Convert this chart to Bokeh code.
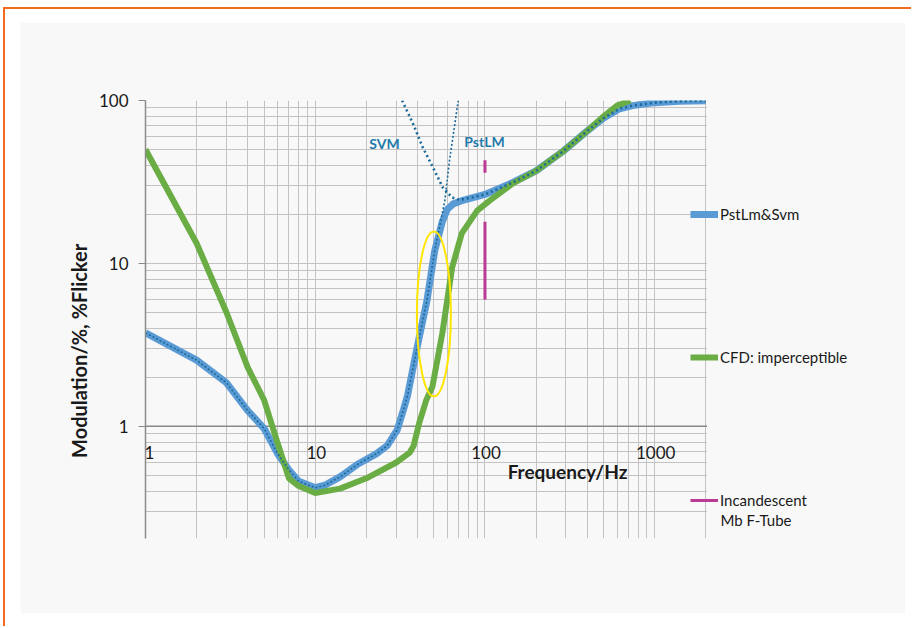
from bokeh.plotting import figure
from bokeh.models import (FixedTicker, PrintfTickFormatter, Label, LabelSet, ColumnDataSource,
                          Legend, LegendItem, Range1d, Span, Title, BoxAnnotation)
from bokeh.embed import file_html
from bokeh.resources import INLINE
from bokeh.core.properties import value

# ---------------- data ----------------
# PstLm&Svm (combined curve)
freq_blue = [1, 2, 3, 4, 5, 6, 7, 8, 10, 11.4, 14, 18, 23, 26.5, 30.4, 33, 35, 39.7, 45.5,
             50.6, 56, 60, 65, 75, 100, 146, 200, 290, 400, 500, 620, 740, 1000, 1400, 2000]
mod_blue = [3.75, 2.55, 1.85, 1.25, 0.97, 0.68, 0.54, 0.46, 0.42, 0.435, 0.49, 0.59, 0.68, 0.76,
            0.95, 1.25, 1.55, 3.0, 5.9, 12, 18, 21.5, 23.2, 24.5, 26.5, 31.4, 37, 49, 65, 78,
            89, 93, 97, 99, 99.5]

# PstLM asymptote (dotted)
freq_pst = [1, 2, 3, 4, 5, 6, 7, 8, 10, 11.4, 14, 18, 23, 26.5, 30.4, 33, 35, 39.7, 45.5,
            50.6, 55, 58, 61.8, 69.6]
mod_pst = [3.75, 2.55, 1.85, 1.25, 0.97, 0.68, 0.54, 0.46, 0.42, 0.435, 0.49, 0.59, 0.68, 0.76,
           0.95, 1.25, 1.55, 3.0, 5.9, 12, 18.3, 24.3, 42.8, 100]

# SVM asymptote (dotted)
freq_svm = [32.5, 37.7, 43, 49.4, 56.5, 64, 71, 100, 146, 200, 290, 400, 500, 620, 740, 1000,
            1400, 2000]
mod_svm = [100, 72, 51.5, 38.8, 29.2, 25.4, 24.5, 26.5, 31.4, 37, 49, 65, 78, 89, 93, 97, 99, 99.5]

# CFD: imperceptible
freq_green = [1, 2, 3, 4, 5, 6, 7, 8, 10, 14, 20, 30, 36, 38, 41, 45, 49, 56, 64, 73, 90, 107,
              146, 200, 290, 400, 500, 600, 720]
mod_green = [50, 13.3, 5.0, 2.3, 1.45, 0.79, 0.48, 0.43, 0.39, 0.415, 0.48, 0.6, 0.69, 0.76,
             1.05, 1.44, 1.75, 3.7, 9.4, 15.3, 21.1, 24.4, 31, 37, 49, 65, 80, 93, 100]

# Incandescent / Mb F-Tube (100 Hz bars)
freq_lamp = [100, 100, float("nan"), 100, 100]
mod_lamp = [43, 36, float("nan"), 18, 6]

# highlighted region (yellow ellipse centre)
ellipse_x = [50]
ellipse_y = [4.9]

x_major = [1, 10, 100, 1000]
x_labels = ["1", "10", "100", "1000"]
x_label_shift = [4, 1, 1, 1]
y_major = [1, 10, 100]
x_min, x_max = 1, 2000
y_min, y_max = 0.205, 100

FONT = "Lato"
INK = "#1a1a1a"
PANEL = "#f8f8f8"
BLUE, GREEN, DOTS, MAGENTA = "#5b9bd5", "#6aad45", "#1b6a99", "#bb3a96"

x_minor = [m * 10 ** e for e in range(0, 4) for m in range(2, 10) if m * 10 ** e <= x_max]
y_minor = [m * 10.0 ** e for e in range(-1, 2) for m in range(2, 10) if m * 10.0 ** e >= 0.2]

# geometry (pixels)
PX_PER_DECADE = 170.0
EXTRA_RIGHT = 200          # legend area right of the last gridline, still inside the frame
x_view_end = x_max * 10 ** (EXTRA_RIGHT / PX_PER_DECADE)

p = figure(width=908, height=619, x_axis_type="log", y_axis_type="log",
           x_range=Range1d(x_min, x_view_end), y_range=Range1d(y_min, y_max),
           output_backend="svg", toolbar_location=None,
           min_border_left=125, min_border_right=23, min_border_top=78, min_border_bottom=103)
p.border_fill_color = PANEL
p.background_fill_color = PANEL
p.outline_line_color = None
p.styles = {"margin-left": "3px", "margin-top": "7px",
            "border-left": "2px solid #f26a1b", "border-top": "2px solid #f26a1b",
            "padding-left": "15px", "padding-top": "13px", "padding-right": "6px",
            "padding-bottom": "13px", "background-color": "white"}

xt = FixedTicker(ticks=x_major, minor_ticks=x_minor)
yt = FixedTicker(ticks=y_major, minor_ticks=y_minor)
p.xaxis.ticker = xt
p.xgrid.ticker = xt
p.yaxis.ticker = yt
p.ygrid.ticker = yt
p.xaxis.visible = False

for g in (p.xgrid, p.ygrid):
    g.grid_line_color = "#c3c3c3"
    g.minor_grid_line_color = "#c3c3c3"
    g.grid_line_width = 1
    g.minor_grid_line_width = 1

ya = p.yaxis[0]
ya.formatter = PrintfTickFormatter(format="%d")
ya.axis_line_color = "#8a8a8a"
ya.axis_line_width = 1.5
ya.major_tick_line_color = "#8a8a8a"
ya.major_tick_out = 7
ya.major_tick_in = 0
ya.minor_tick_out = 0
ya.minor_tick_in = 0
ya.major_label_standoff = 10
ya.major_label_text_font = FONT
ya.major_label_text_font_size = "17px"
ya.major_label_text_color = INK

# y title; trailing no-break spaces push the visible text down along the axis
p.add_layout(Title(text="Modulation/%,  %Flicker" + "\u00a0" * 12, align="center",
                   standoff=9, text_font=FONT, text_font_style="bold",
                   text_font_size="20px", text_color=INK), "left")

# x axis line at y = 1 (under the mask so that it stops at the last gridline)
p.add_layout(Span(location=1, dimension="width", line_color="#8a8a8a", line_width=1.5,
                  level="underlay"))
# mask for the grid beyond the last gridline (legend area)
p.add_layout(BoxAnnotation(left=x_max * 10 ** (1.2 / PX_PER_DECADE), fill_color=PANEL,
                           fill_alpha=1, line_alpha=0, level="underlay"))

# curves
r_blue = p.line(freq_blue, mod_blue, line_color=BLUE, line_width=7)
r_green = p.line(freq_green, mod_green, line_color=GREEN, line_width=6)
p.line(freq_pst, mod_pst, line_color=DOTS, line_width=1.6, line_dash="2 2")
p.line(freq_svm, mod_svm, line_color=DOTS, line_width=2.6, line_dash="2 3")
r_lamp = p.line(freq_lamp, mod_lamp, line_color=MAGENTA, line_width=3)
p.ellipse(x=ellipse_x, y=ellipse_y, width=34, height=165, width_units="screen",
          height_units="screen", fill_color=None, line_color="#ffe500", line_width=2)

# x tick labels placed on the y=1 axis line
src = ColumnDataSource(dict(x=x_major, y=[1] * len(x_major), t=x_labels, dx=x_label_shift))
p.add_layout(LabelSet(x="x", y="y", text="t", source=src, y_offset=-26, x_offset="dx",
                      text_align="center", text_baseline="middle",
                      text_font=value(FONT), text_font_size=value("17px"),
                      text_color=INK))

p.add_layout(Label(x=422, y=67, x_units="screen", y_units="screen", text="Frequency/Hz",
                   text_font=FONT, text_font_style="bold", text_font_size="19px",
                   text_align="center", text_baseline="middle", text_color=INK))
p.add_layout(Label(x=239, y=395, x_units="screen", y_units="screen", text="SVM",
                   text_font=FONT, text_font_style="bold", text_font_size="14px",
                   text_align="center", text_baseline="middle", text_color="#1f7bab"))
p.add_layout(Label(x=339, y=397, x_units="screen", y_units="screen", text="PstLM",
                   text_font=FONT, text_font_style="bold", text_font_size="14px",
                   text_align="center", text_baseline="middle", text_color="#1f7bab"))

legend = Legend(items=[LegendItem(label="PstLm&Svm", renderers=[r_blue]),
                       LegendItem(label="CFD: imperceptible", renderers=[r_green]),
                       LegendItem(label="Incandescent", renderers=[r_lamp])],
                location=(545, 28), border_line_alpha=0, background_fill_alpha=0,
                padding=0, margin=0, spacing=123, glyph_width=28, glyph_height=20,
                label_height=20, label_standoff=2, label_text_font=FONT,
                label_text_font_size="15px", label_text_color=INK)
p.add_layout(legend)
p.add_layout(Label(x=575, y=19, x_units="screen", y_units="screen", text="Mb F-Tube",
                   text_font=FONT, text_font_size="15px", text_align="left",
                   text_baseline="middle", text_color=INK))

open("out.html", "w").write(file_html(p, INLINE))
